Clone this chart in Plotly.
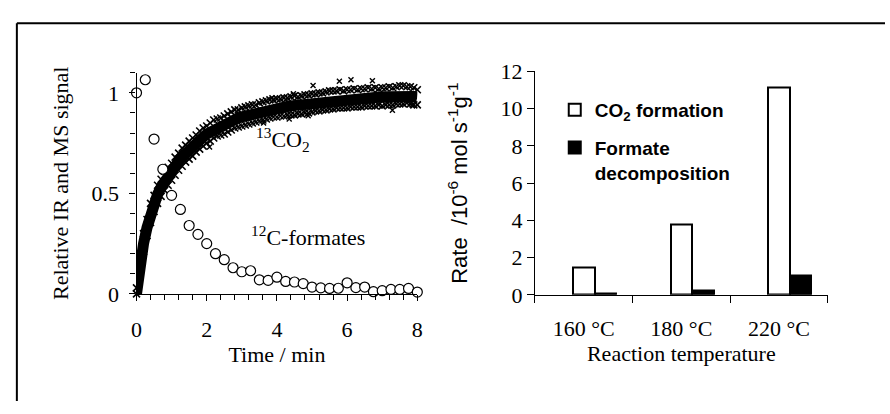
import plotly.graph_objects as go

# ---------------- data: left panel ----------------
# 13CO2 signal band (centre, upper edge, lower edge), t = 0 ... 8 min every 0.1 min
co2_time = [round(i * 0.1, 1) for i in range(81)]
co2_mid = [0.00, 0.15, 0.25, 0.33, 0.40, 0.45, 0.495, 0.53, 0.56, 0.585,
           0.61, 0.635, 0.66, 0.68, 0.70, 0.715, 0.73, 0.75, 0.765, 0.78,
           0.795, 0.805, 0.82, 0.83, 0.835, 0.84, 0.85, 0.86, 0.87, 0.875,
           0.88, 0.885, 0.89, 0.895, 0.90, 0.905, 0.91, 0.915, 0.92, 0.923,
           0.926, 0.928, 0.93, 0.932, 0.935, 0.937, 0.939, 0.941, 0.944, 0.947,
           0.95, 0.953, 0.956, 0.958, 0.961, 0.963, 0.965, 0.967, 0.968, 0.969,
           0.97, 0.971, 0.972, 0.973, 0.974, 0.975, 0.976, 0.977, 0.978, 0.979,
           0.98, 0.981, 0.982, 0.983, 0.985, 0.987, 0.988, 0.989, 0.986, 0.982,
           0.978]
co2_upper = [0.03, 0.19, 0.30, 0.37, 0.45, 0.49, 0.54, 0.57, 0.61, 0.63,
             0.65, 0.68, 0.70, 0.725, 0.74, 0.76, 0.775, 0.79, 0.81, 0.825,
             0.835, 0.85, 0.865, 0.87, 0.875, 0.885, 0.895, 0.905, 0.915, 0.915,
             0.925, 0.93, 0.935, 0.94, 0.94, 0.95, 0.955, 0.96, 0.965, 0.965,
             0.97, 0.97, 0.975, 0.975, 0.98, 0.985, 0.98, 0.985, 0.99, 0.99,
             0.995, 0.995, 1.0, 1.0, 1.005, 1.01, 1.01, 1.01, 1.015, 1.01,
             1.015, 1.015, 1.02, 1.015, 1.02, 1.02, 1.025, 1.02, 1.025, 1.02,
             1.025, 1.025, 1.03, 1.025, 1.03, 1.035, 1.035, 1.03, 1.03, 1.025,
             1.015]
co2_lower = [0.0, 0.11, 0.21, 0.29, 0.355, 0.41, 0.45, 0.485, 0.515, 0.54,
             0.565, 0.59, 0.615, 0.635, 0.655, 0.67, 0.685, 0.705, 0.72, 0.735,
             0.75, 0.76, 0.775, 0.785, 0.79, 0.795, 0.805, 0.815, 0.825, 0.83,
             0.835, 0.84, 0.845, 0.85, 0.855, 0.86, 0.865, 0.87, 0.875, 0.88,
             0.88, 0.885, 0.885, 0.89, 0.89, 0.89, 0.895, 0.895, 0.90, 0.90,
             0.905, 0.91, 0.91, 0.915, 0.915, 0.92, 0.92, 0.925, 0.925, 0.925,
             0.925, 0.93, 0.93, 0.93, 0.93, 0.935, 0.935, 0.935, 0.935, 0.94,
             0.935, 0.94, 0.94, 0.94, 0.945, 0.945, 0.945, 0.95, 0.945, 0.94,
             0.94]
co2_out_time = [0.67, 2.08, 3.62, 3.86, 4.35, 4.47, 4.89, 5.03, 5.78, 6.11, 6.72, 7.29, 7.85]
co2_out_val = [0.54, 0.73, 0.85, 0.975, 0.87, 0.995, 0.886, 1.037, 1.057, 1.065, 1.06, 0.913, 0.94]

# 12C-formates signal, every 0.25 min
form_time = [0.0, 0.25, 0.5, 0.75, 1.0, 1.25, 1.5, 1.75, 2.0, 2.25, 2.5, 2.75, 3.0,
             3.25, 3.5, 3.75, 4.0, 4.25, 4.5, 4.75, 5.0, 5.25, 5.5, 5.75, 6.0,
             6.25, 6.5, 6.75, 7.0, 7.25, 7.5, 7.75, 8.0]
form_val = [1.0, 1.065, 0.77, 0.62, 0.49, 0.42, 0.34, 0.296, 0.25, 0.20, 0.17, 0.13, 0.11,
            0.115, 0.07, 0.067, 0.083, 0.062, 0.059, 0.051, 0.034, 0.03, 0.027, 0.028, 0.055,
            0.031, 0.034, 0.011, 0.016, 0.022, 0.022, 0.027, 0.009]

# ---------------- data: right panel ----------------
temps = ["160 °C", "180 °C", "220 °C"]
rate_co2 = [1.48, 3.79, 11.16]
rate_formate = [0.08, 0.22, 1.05]

SERIF = "Liberation Serif, Times New Roman, serif"
SANS = "Liberation Sans, Arial, sans-serif"

fig = go.Figure()

xmark = dict(symbol="x-thin", size=7, color="black", line=dict(color="black", width=1.6))
fig.add_trace(go.Scatter(x=co2_time, y=co2_mid, mode="lines",
                         line=dict(color="black", width=11),
                         showlegend=False, xaxis="x", yaxis="y", hoverinfo="skip"))
for ys in (co2_upper, co2_lower):
    fig.add_trace(go.Scatter(x=co2_time, y=ys, mode="markers", marker=xmark,
                             showlegend=False, xaxis="x", yaxis="y", cliponaxis=False))
fig.add_trace(go.Scatter(x=co2_out_time, y=co2_out_val, mode="markers",
                         marker=dict(symbol="x-thin", size=5, color="black",
                                     line=dict(color="black", width=1.4)),
                         showlegend=False, xaxis="x", yaxis="y", cliponaxis=False))
fig.add_trace(go.Scatter(x=form_time, y=form_val, mode="markers",
                         marker=dict(symbol="circle", size=10, color="white",
                                     line=dict(color="black", width=1.2)),
                         showlegend=False, xaxis="x", yaxis="y", cliponaxis=False))

fig.add_trace(go.Bar(x=temps, y=rate_co2, name="<b>CO<sub>2</sub> formation</b>",
                     width=0.22, offset=-0.11,
                     marker=dict(color="white", line=dict(color="black", width=2)),
                     xaxis="x2", yaxis="y2", legendgroup="a"))
fig.add_trace(go.Bar(x=temps, y=rate_formate, name="<b>Formate<br>decomposition</b>",
                     width=0.22, offset=0.11,
                     marker=dict(color="black", line=dict(color="black", width=2)),
                     xaxis="x2", yaxis="y2", legendgroup="b"))

W, H = 890, 414
axis_common = dict(showline=True, linecolor="black", linewidth=1.2, showgrid=False,
                   zeroline=False, ticks="outside", tickcolor="black",
                   tickfont=dict(family=SERIF, size=22, color="black"))

fig.update_layout(
    width=W, height=H, autosize=False,
    margin=dict(l=0, r=0, t=0, b=0),
    paper_bgcolor="white", plot_bgcolor="rgba(0,0,0,0)",
    showlegend=True,
    xaxis=dict(domain=[133 / W, 417 / W], range=[0, 8], anchor="y",
               tick0=0, dtick=2, ticklen=6, tickwidth=1.2,
               minor=dict(dtick=0.4, tick0=0, ticks="outside", ticklen=5, tickcolor="black", tickwidth=1),
               ticklabelstandoff=10,
               title=dict(text="Time / min", font=dict(family=SERIF, size=22, color="black"), standoff=0),
               **axis_common),
    yaxis=dict(domain=[(H - 300) / H, (H - 64.6) / H], range=[0, 1.1001], anchor="x",
               tick0=0, dtick=0.5, ticklen=6, tickwidth=1.2,
               minor=dict(dtick=0.1, tick0=0, ticks="outside", ticklen=5, tickcolor="black", tickwidth=1),
               ticklabelstandoff=6,
               title=dict(text="Relative IR and MS signal", font=dict(family=SERIF, size=22, color="black"), standoff=16),
               **axis_common),
    xaxis2=dict(domain=[536 / W, 832 / W], range=[-0.5, 2.5], anchor="y2",
                type="category", tickson="boundaries", ticklen=7, tickwidth=1.2,
                ticklabelstandoff=14,
                title=dict(text="Reaction temperature", font=dict(family=SERIF, size=22, color="black"), standoff=2),
                **axis_common),
    yaxis2=dict(domain=[(H - 301) / H, (H - 63.3) / H], range=[0, 12], anchor="x2",
                dtick=2, ticklen=7, tickwidth=1.2,
                title=dict(text="Rate\u00a0\u00a0/10<sup>-6</sup> mol s<sup>-1</sup>g<sup>-1</sup>",
                           font=dict(family=SANS, size=22, color="black"), standoff=26),
                **axis_common),
    bargap=0, barmode="overlay",
    legend=dict(x=556 / W, y=1 - 84 / H, xanchor="left", yanchor="top",
                bgcolor="rgba(0,0,0,0)", borderwidth=0, valign="top",
                traceorder="grouped", tracegroupgap=10,
                font=dict(family=SANS, size=19, color="black")),
    annotations=[
        dict(x=3.34, y=0.77, xref="x", yref="y", xanchor="left", yanchor="middle",
             text="<sup>13</sup>CO<sub>2</sub>", showarrow=False,
             font=dict(family=SERIF, size=22, color="black")),
        dict(x=3.2, y=0.29, xref="x", yref="y", xanchor="left", yanchor="middle",
             text="<sup>12</sup>C-formates", showarrow=False,
             font=dict(family=SERIF, size=22, color="black")),
    ],
    shapes=[
        dict(type="line", xref="paper", yref="paper", x0=12 / W, x1=1.0, y0=1 - 12 / H, y1=1 - 12 / H,
             line=dict(color="black", width=2)),
        dict(type="line", xref="paper", yref="paper", x0=12 / W, x1=12 / W, y0=1 - 12 / H, y1=0,
             line=dict(color="black", width=2)),
    ],
)

# remove the browser's default 8px body margin so the figure sits at the window origin
fig.write_html("out.html", config={"displayModeBar": False},
               post_script="document.body.style.margin='0';document.body.style.overflow='hidden';")
